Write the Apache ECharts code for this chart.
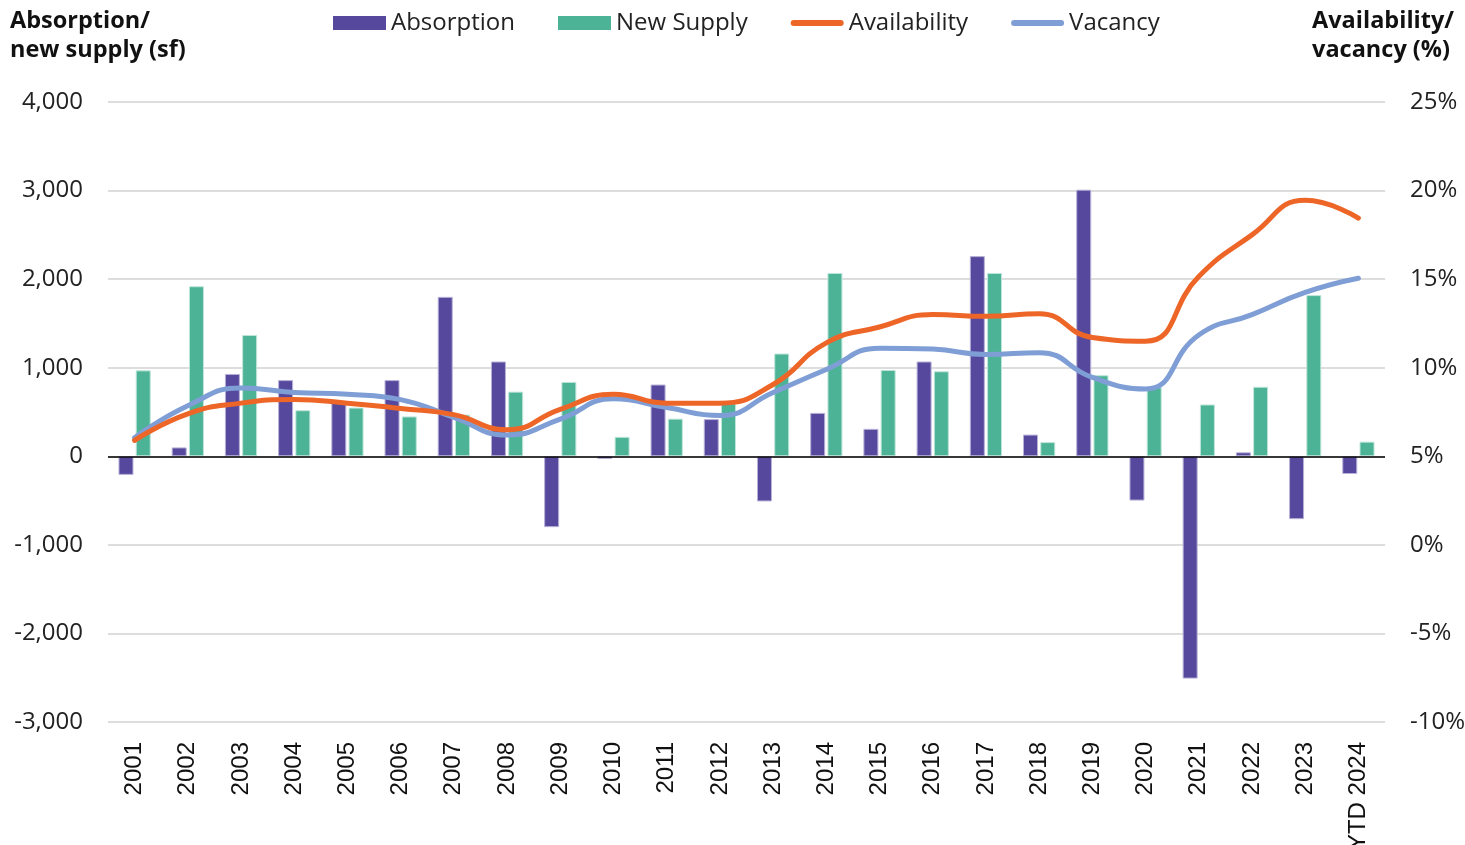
<!DOCTYPE html>
<html>
<head>
<meta charset="utf-8">
<script src="https://cdn.jsdelivr.net/npm/echarts@6/dist/echarts.min.js"></script>
<style>
  html, body { margin: 0; padding: 0; background: #fff; }
  #chart { width: 1465px; height: 845px; }
</style>
</head>
<body>
<div id="chart"></div>
<script>
  // categories and values
  const years = ['2001', '2002', '2003', '2004', '2005', '2006', '2007', '2008', '2009', '2010', '2011', '2012',
    '2013', '2014', '2015', '2016', '2017', '2018', '2019', '2020', '2021', '2022', '2023', 'YTD 2024']
  const absorption = [-210, 100, 930, 860, 610, 860, 1800, 1070, -800, -30, 810, 420,
    -510, 490, 310, 1070, 2260, 245, 3010, -500, -2510, 45, -710, -200]
  const newSupply = [970, 1920, 1370, 520, 550, 450, 470, 730, 840, 220, 425, 600,
    1160, 2070, 975, 960, 2070, 160, 915, 780, 585, 785, 1820, 165]
  const availability = [5.9, 7.4, 8.0, 8.2, 8.0, 7.7, 7.35, 6.5, 7.65, 8.5, 8.0, 8.0,
    9.05, 11.4, 12.3, 13.0, 12.9, 13.05, 11.7, 11.5, 15.15, 17.5, 19.45, 18.45]
  const vacancy = [6.05, 7.85, 8.85, 8.6, 8.5, 8.2, 7.2, 6.2, 7.1, 8.25, 7.75, 7.3,
    8.6, 9.9, 11.1, 11.05, 10.75, 10.85, 9.45, 8.8, 11.85, 13.0, 14.25, 15.05]
  const leftTicks = { min: -3000, max: 4000, interval: 1000 }
  const rightTicks = { min: -10, max: 25, interval: 5 }

  const chart = echarts.init(document.getElementById('chart'))
  const font = '"Open Sans", "Noto Sans", sans-serif'
  // thin rounded bar used as the legend icon of the two lines
  const lineIcon = 'path://M3,0 H51 A3,3 0 0 1 51,6 H3 A3,3 0 0 1 3,0 Z'

  chart.setOption({
    animation: false,
    textStyle: { fontFamily: font },
    grid: { left: 108, right: 80, top: 102, bottom: 123, containLabel: false, outerBoundsMode: 'none' },
    legend: {
      left: 333,
      top: 11,
      padding: 0,
      itemWidth: 53,
      itemHeight: 14,
      itemGap: 43,
      itemStyle: { borderWidth: 0 },
      textStyle: { fontSize: 24, color: '#222', fontFamily: font },
      data: [
        { name: 'Absorption', icon: 'rect' },
        { name: 'New Supply', icon: 'rect' },
        { name: 'Availability', icon: lineIcon },
        { name: 'Vacancy', icon: lineIcon }
      ]
    },
    graphic: [
      {
        type: 'text', left: 10, top: 7,
        style: { text: 'Absorption/\nnew supply (sf)', font: 'bold 23.5px ' + font, fill: '#111', lineHeight: 29 }
      },
      {
        type: 'text', right: 11, top: 7,
        style: { text: 'Availability/\nvacancy (%)', font: 'bold 23.5px ' + font, fill: '#111', lineHeight: 29, align: 'right' }
      }
    ],
    xAxis: {
      type: 'category',
      data: years,
      axisLine: { show: false },
      axisTick: { show: false },
      axisLabel: {
        rotate: 90,
        margin: 20,
        fontSize: 24,
        color: '#111',
        fontFamily: '"Liberation Sans", Arial, sans-serif',
        interval: 0
      }
    },
    yAxis: [
      {
        type: 'value',
        ...leftTicks,
        axisLine: { show: false },
        axisTick: { show: false },
        splitLine: { lineStyle: { color: '#d2d2d2', width: 1.5 } },
        axisLabel: {
          margin: 25,
          fontSize: 24,
          color: '#222',
          formatter: v => v.toLocaleString('en-US')
        }
      },
      {
        type: 'value',
        ...rightTicks,
        axisLine: { show: false },
        axisTick: { show: false },
        splitLine: { show: false },
        axisLabel: {
          margin: 25,
          fontSize: 24,
          color: '#222',
          formatter: '{value}%'
        }
      }
    ],
    series: [
      {
        name: 'Absorption',
        type: 'bar',
        data: absorption,
        barWidth: 15,
        barGap: '15%',
        itemStyle: { color: '#56499D', borderColor: '#b8b2d8', borderWidth: 1 },
        markLine: {
          silent: true,
          symbol: 'none',
          label: { show: false },
          lineStyle: { color: '#000', width: 1.5, type: 'solid' },
          data: [{ yAxis: 0 }]
        }
      },
      {
        name: 'New Supply',
        type: 'bar',
        data: newSupply,
        barWidth: 15,
        itemStyle: { color: '#4DB396', borderColor: '#bfe6da', borderWidth: 1 }
      },
      {
        name: 'Availability',
        type: 'line',
        yAxisIndex: 1,
        data: availability,
        smooth: 0.5,
        symbol: 'none',
        z: 4,
        itemStyle: { color: '#EE6627' },
        lineStyle: { color: '#EE6627', width: 5, cap: 'round' }
      },
      {
        name: 'Vacancy',
        type: 'line',
        yAxisIndex: 1,
        data: vacancy,
        smooth: 0.5,
        symbol: 'none',
        z: 3,
        itemStyle: { color: '#7F9ED5' },
        lineStyle: { color: '#7F9ED5', width: 5, cap: 'round' }
      }
    ]
  })
</script>
</body>
</html>
